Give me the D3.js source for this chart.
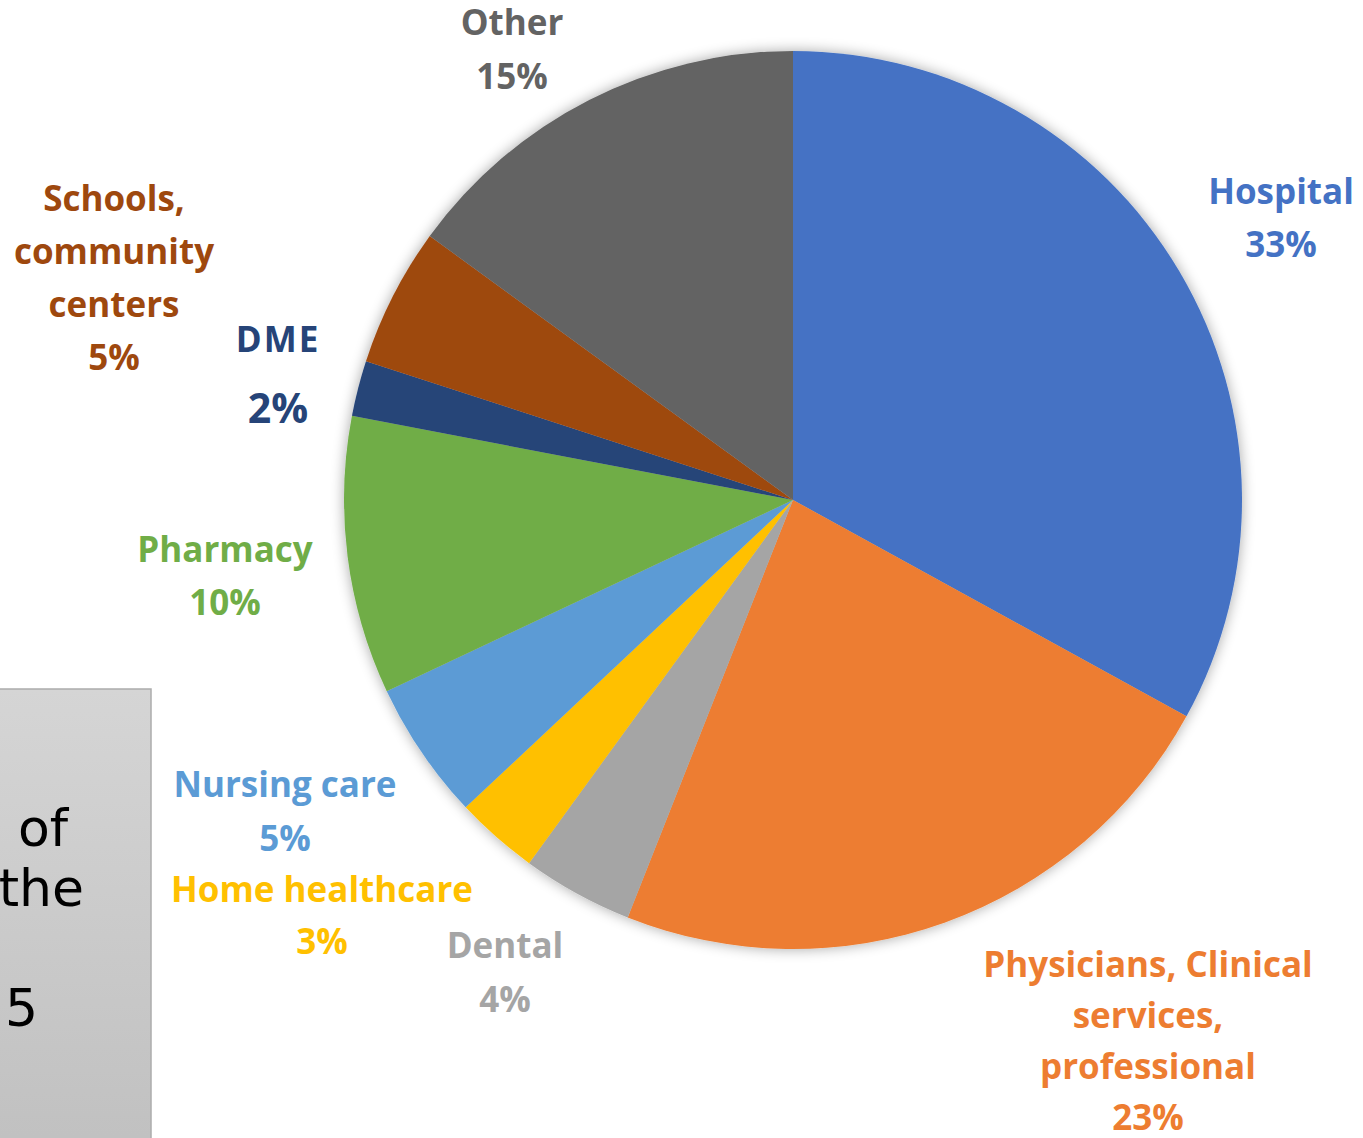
<!DOCTYPE html>
<html>
<head>
<meta charset="utf-8">
<script src="https://cdn.jsdelivr.net/npm/d3@7"></script>
<style>
  html, body { margin: 0; padding: 0; background: #fff; }
  svg { display: block; }
</style>
</head>
<body>
<svg id="chart" width="1363" height="1138"></svg>
<script>
// Health care spending by setting (share of total)
const categories = ["Hospital", "Physicians, Clinical services, professional", "Dental", "Home healthcare", "Nursing care", "Pharmacy", "DME", "Schools, community centers", "Other"];
const shares = [33, 23, 4, 3, 5, 10, 2, 5, 15];
const colors = ["#4472C4", "#ED7D31", "#A5A5A5", "#FFC000", "#5B9BD5", "#70AD47", "#264478", "#9E480E", "#636363"];
// Label text, split into lines as wrapped on the slide
const labelLines = [
  ["Hospital"],
  ["Physicians, Clinical", "services,", "professional"],
  ["Dental"],
  ["Home healthcare"],
  ["Nursing care"],
  ["Pharmacy"],
  ["DME"],
  ["Schools,", "community", "centers"],
  ["Other"]
];

const W = 1363, H = 1138;
const cx = 793, cy = 500, R = 449;

const svg = d3.select("#chart");

// Soft shadow around the pie
const defs = svg.append("defs");
const f = defs.append("filter").attr("id", "pieShadow")
  .attr("x", "-10%").attr("y", "-10%").attr("width", "120%").attr("height", "120%");
f.append("feGaussianBlur").attr("in", "SourceAlpha").attr("stdDeviation", 7).attr("result", "b");
f.append("feComponentTransfer").attr("in", "b").attr("result", "s")
  .append("feFuncA").attr("type", "linear").attr("slope", 0.35);
const m = f.append("feMerge");
m.append("feMergeNode").attr("in", "s");
m.append("feMergeNode").attr("in", "SourceGraphic");

// Gradient for the slide text box at the lower left
const g1 = defs.append("linearGradient").attr("id", "boxFill")
  .attr("x1", 0).attr("y1", 0).attr("x2", 0).attr("y2", 1);
g1.append("stop").attr("offset", "0%").attr("stop-color", "#d5d5d5");
g1.append("stop").attr("offset", "100%").attr("stop-color", "#c0c0c0");

// Slide text box (partially off the page)
const box = svg.append("g");
box.append("rect").attr("x", -20).attr("y", 689).attr("width", 171).attr("height", 470)
  .attr("fill", "url(#boxFill)").attr("stroke", "#acacac").attr("stroke-width", 1.5);
const boxText = [
  { t: "of", x: 68, y: 846 },
  { t: "the", x: 84, y: 906 },
  { t: "5", x: 38, y: 1026 }
];
box.selectAll("text").data(boxText).join("text")
  .attr("x", d => d.x).attr("y", d => d.y)
  .attr("text-anchor", "end")
  .attr("font-family", "DejaVu Sans, Verdana, sans-serif")
  .attr("font-size", 52)
  .attr("fill", "#000")
  .text(d => d.t);

// Pie
const data = categories.map((c, i) => ({ name: c, value: shares[i], color: colors[i], lines: labelLines[i] }));
const pie = d3.pie().value(d => d.value).sort(null).startAngle(0).endAngle(2 * Math.PI);
const arc = d3.arc().innerRadius(0).outerRadius(R);
const arcs = pie(data);

const pieG = svg.append("g").attr("transform", `translate(${cx},${cy})`).attr("filter", "url(#pieShadow)");
pieG.selectAll("path").data(arcs).join("path")
  .attr("d", arc)
  .attr("fill", d => d.data.color);

// Label anchors (centre x, first baseline y), line spacing, and optional styling per label
const labelPos = [
  { x: 1281, y: 204, lh: 53 },
  { x: 1148, y: 977, lh: 51 },
  { x: 505, y: 958, lh: 54 },
  { x: 322, y: 902, lh: 52 },
  { x: 285, y: 797, lh: 54 },
  { x: 225, y: 562, lh: 53 },
  { x: 278, y: 352, lh: 71, ls: 2, pctSize: 41 },
  { x: 114, y: 211, lh: 53 },
  { x: 512, y: 35, lh: 54 }
];

const labels = svg.append("g")
  .attr("font-family", "'Open Sans', Lato, sans-serif")
  .attr("font-weight", "bold")
  .attr("font-size", 35)
  .attr("text-anchor", "middle");

arcs.forEach((a, i) => {
  const p = labelPos[i];
  const t = labels.append("text").attr("fill", a.data.color);
  a.data.lines.forEach((ln, j) => {
    const s = t.append("tspan").attr("x", p.x).attr("y", p.y + j * p.lh).text(ln);
    if (p.ls) s.attr("letter-spacing", p.ls);
  });
  const pct = t.append("tspan")
    .attr("x", p.x)
    .attr("y", p.y + a.data.lines.length * p.lh)
    .text(d3.format(".0f")(a.data.value) + "%");
  if (p.pctSize) pct.attr("font-size", p.pctSize);
});
</script>
</body>
</html>
